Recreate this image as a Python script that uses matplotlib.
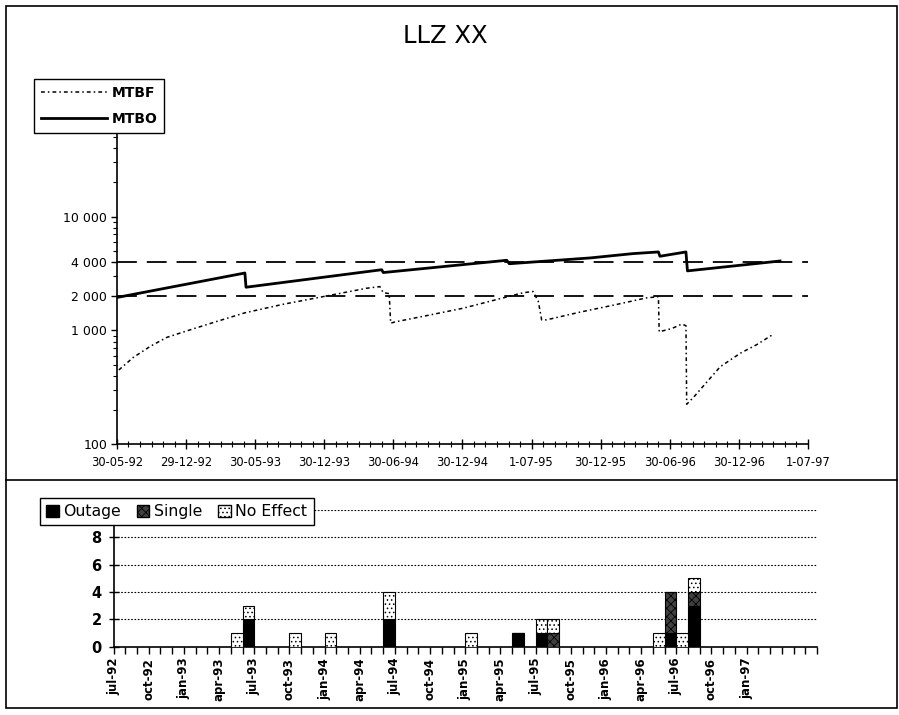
import numpy as np
import pandas as pd
import matplotlib
matplotlib.use('Agg')
import matplotlib.pyplot as plt
from matplotlib.ticker import FixedLocator, NullFormatter, AutoMinorLocator, LogLocator, FuncFormatter, MultipleLocator
from matplotlib.patches import Rectangle, Patch
from matplotlib.lines import Line2D

plt.rcParams['font.family'] = ['DejaVu Sans']
plt.rcParams['hatch.linewidth'] = 0.6

# ============================================================
# DATA
# ============================================================
start_date = pd.Timestamp('1992-05-30')
end_date = pd.Timestamp('1997-07-01')

# days since 30-05-92
mtbo_day = [0, 344, 347, 712, 716, 1048, 1055, 1111, 1272, 1388, 1456, 1460, 1530, 1534, 1783]
mtbo_val = [1950, 3200, 2400, 3420, 3230, 4140, 3860, 3980, 4340, 4740, 4900, 4490, 4900, 3340, 4080]

mtbf_day = [5, 44, 89, 134, 187, 268, 344, 447, 582, 671,
            707, 716, 732, 736, 748, 842, 931, 1021, 1093, 1119,
            1133, 1142, 1155, 1245, 1335, 1424, 1456, 1458, 1492, 1519,
            1530, 1532, 1550, 1586, 1622, 1676, 1720, 1761]
mtbf_val = [450, 580, 724, 870, 990, 1200, 1430, 1700, 2065, 2350,
            2430, 2150, 2110, 1160, 1190, 1370, 1570, 1870, 2150, 2200,
            1800, 1240, 1240, 1450, 1670, 1935, 1980, 975, 1040, 1140,
            1100, 225, 258, 352, 480, 631, 750, 910]

limit_levels = [2000, 4000]

top_xlabels = ['30-05-92', '29-12-92', '30-05-93', '30-12-93', '30-06-94', '30-12-94',
               '1-07-95', '30-12-95', '30-06-96', '30-12-96', '1-07-97']
top_yticks = [100, 1000, 2000, 4000, 10000]

# monthly events, months counted from jul-92
bar_month = [10, 11, 15, 18, 23, 30, 34, 36, 37, 46, 47, 48, 49]
outage    = [0, 2, 0, 0, 2, 0, 1, 1, 0, 0, 1, 0, 3]
single    = [0, 0, 0, 0, 0, 0, 0, 0, 1, 0, 3, 0, 1]
no_effect = [1, 1, 1, 1, 2, 1, 0, 1, 1, 1, 0, 1, 1]

n_months = 60
month_labels = ['jul-92', 'oct-92', 'jan-93', 'apr-93', 'jul-93', 'oct-93', 'jan-94',
                'apr-94', 'jul-94', 'oct-94', 'jan-95', 'apr-95', 'jul-95', 'oct-95',
                'jan-96', 'apr-96', 'jul-96', 'oct-96', 'jan-97']

# ============================================================
# FIGURE
# ============================================================
fig = plt.figure(figsize=(8.99, 7.15), dpi=100)

# outer frame + separator
fig.patches.append(Rectangle((0.007, 0.010), 0.991, 0.982, transform=fig.transFigure,
                             fill=False, edgecolor='black', lw=1.2))
fig.add_artist(Line2D([0.007, 0.998], [0.3287, 0.3287], transform=fig.transFigure,
                      color='black', lw=1.2))

fig.text(0.495, 0.950, 'LLZ XX', ha='center', va='center', fontsize=17.5)

# ---------- top chart ----------
ax = fig.add_axes([0.1301, 0.3786, 0.7686, 0.4775])
span = (end_date - start_date).days

for lv in limit_levels:
    ax.axhline(lv, color='black', lw=1.3, ls=(0, (11, 5.5)), zorder=1)

ax.plot(mtbf_day, mtbf_val, color='black', lw=1.1, ls=(0, (2.5, 2, 1, 2)), label='MTBF', zorder=2)
ax.plot(mtbo_day, mtbo_val, color='black', lw=2.0, ls='-', label='MTBO', zorder=3)

ax.set_yscale('log')
ax.set_ylim(100, 100000)
ax.set_xlim(0, span)
ax.yaxis.set_major_locator(FixedLocator(top_yticks))
ax.yaxis.set_major_formatter(FuncFormatter(lambda v, p: f'{int(v):,}'.replace(',', ' ')))
ax.yaxis.set_minor_locator(LogLocator(base=10, subs=np.arange(2, 10)))
ax.yaxis.set_minor_formatter(NullFormatter())

ax.set_xticks(np.linspace(0, span, len(top_xlabels)))
ax.set_xticklabels(top_xlabels)
ax.xaxis.set_minor_locator(AutoMinorLocator(6))

ax.tick_params(axis='x', which='major', direction='inout', length=7, width=1, labelsize=8.3, pad=5)
ax.tick_params(axis='x', which='minor', direction='inout', length=4, width=0.8)
ax.tick_params(axis='y', which='major', direction='out', length=4, width=1, labelsize=9, pad=3)
ax.tick_params(axis='y', which='minor', direction='out', length=3, width=0.8)

ax.spines['top'].set_visible(False)
ax.spines['right'].set_visible(False)
ax.spines['left'].set_linewidth(1.2)
ax.spines['bottom'].set_linewidth(1.2)

leg = ax.legend(loc='upper left', bbox_to_anchor=(0.0297, 0.8997),
                bbox_transform=fig.transFigure, frameon=True, fancybox=False,
                edgecolor='black', framealpha=1, handlelength=4.8, handletextpad=0.3,
                labelspacing=0.9, borderpad=0.5,
                prop={'weight': 'bold', 'size': 10})
leg.get_frame().set_linewidth(1.0)
leg.set_zorder(10)

# ---------- bottom chart ----------
bx = fig.add_axes([0.1263, 0.0955, 0.7825, 0.1912])
xm = np.array(bar_month) + 0.5
o = np.array(outage)
s = np.array(single)
ne = np.array(no_effect)

bx.bar(xm, o, width=1.0, color='black', edgecolor='black', lw=0.8, label='Outage', zorder=3)
bx.bar(xm, s, width=1.0, bottom=o, color='0.25', edgecolor='black', hatch='xxxx',
       lw=0.8, label='Single', zorder=3)
bx.bar(xm, ne, width=1.0, bottom=o + s, color='white', edgecolor='black', hatch='....',
       lw=0.8, label='No Effect', zorder=3)

bx.set_xlim(0, n_months)
bx.set_ylim(0, 10)
bx.set_yticks([0, 2, 4, 6, 8])
for g in [2, 4, 6, 8, 10]:
    bx.axhline(g, color='black', lw=0.8, ls=(0, (1.5, 1.5)), zorder=1)

bx.set_xticks(np.arange(0, 3 * len(month_labels), 3))
bx.set_xticklabels(month_labels, rotation=90, fontweight='bold', fontsize=8.5)
bx.xaxis.set_minor_locator(MultipleLocator(1))
bx.tick_params(axis='x', which='both', direction='out', length=5, width=1, pad=3)
bx.tick_params(axis='y', which='major', direction='inout', length=7, width=1, labelsize=10.5, pad=5)
for t in bx.get_yticklabels():
    t.set_fontweight('bold')

bx.spines['top'].set_visible(False)
bx.spines['right'].set_visible(False)
bx.spines['left'].set_linewidth(1.2)
bx.spines['bottom'].set_linewidth(1.2)

handles = [Patch(facecolor='black', edgecolor='black'),
           Patch(facecolor='0.25', edgecolor='black', hatch='xxxx'),
           Patch(facecolor='white', edgecolor='black', hatch='....')]
leg2 = bx.legend(handles, ['Outage', 'Single', 'No Effect'], loc='upper left',
                 bbox_to_anchor=(0.0356, 0.3147), bbox_transform=fig.transFigure,
                 ncol=3, frameon=True, fancybox=False, edgecolor='black', framealpha=1,
                 handlelength=0.8, handleheight=0.8, handletextpad=0.3,
                 columnspacing=1.0, borderpad=0.4, fontsize=11.3)
leg2.get_frame().set_linewidth(1.0)
leg2.set_zorder(10)

fig.savefig('out.png', dpi=100)
